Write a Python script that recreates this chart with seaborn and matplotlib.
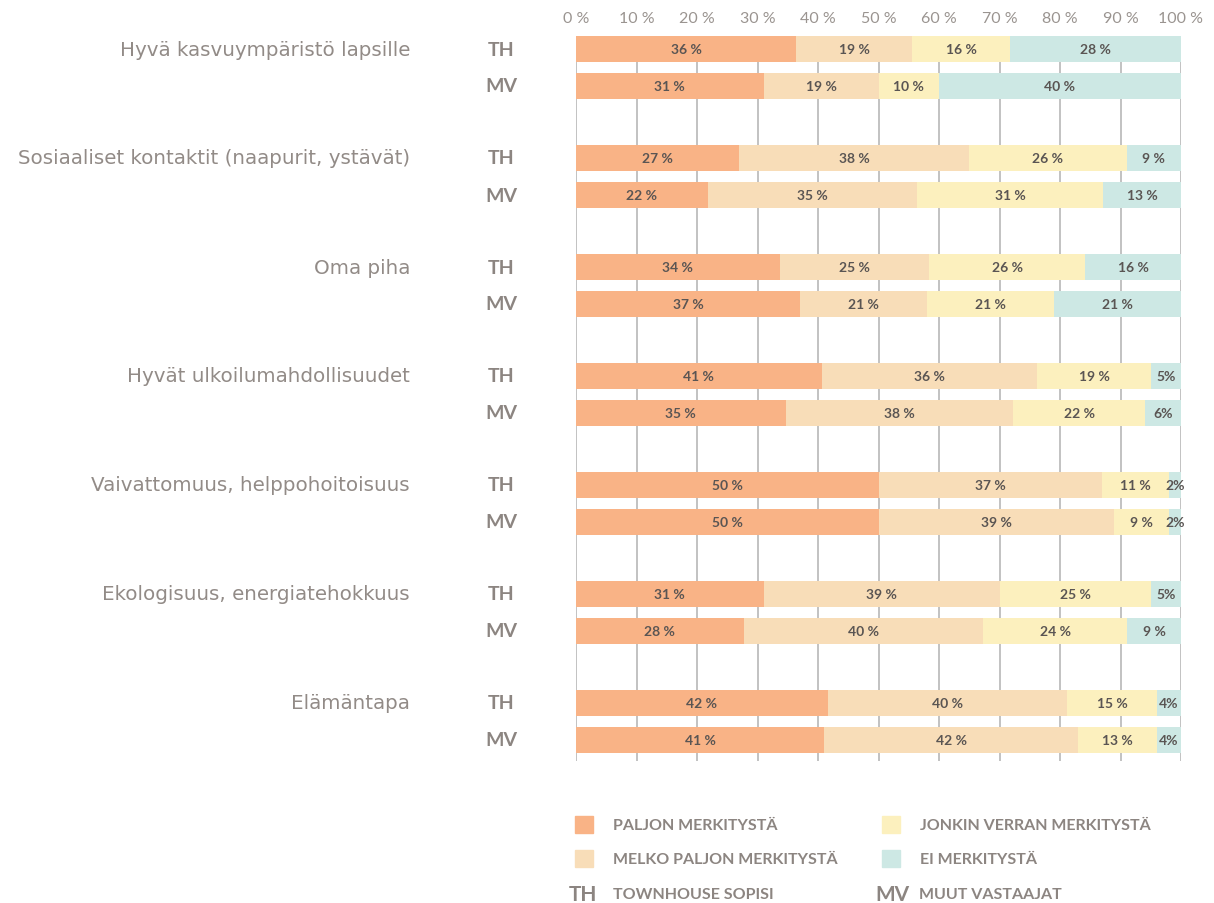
import numpy as np
import seaborn as sns
import matplotlib.pyplot as plt
from matplotlib.patches import Rectangle

# data
categories = ['Hyvä kasvuympäristö lapsille',
              'Sosiaaliset kontaktit (naapurit, ystävät)',
              'Oma piha',
              'Hyvät ulkoilumahdollisuudet',
              'Vaivattomuus, helppohoitoisuus',
              'Ekologisuus, energiatehokkuus',
              'Elämäntapa']
groups = ['TH', 'MV']
segments = ['PALJON MERKITYSTÄ', 'MELKO PALJON MERKITYSTÄ',
            'JONKIN VERRAN MERKITYSTÄ', 'EI MERKITYSTÄ']

paljon = [[36, 31], [27, 22], [34, 37], [41, 35], [50, 50], [31, 28], [42, 41]]
melko = [[19, 19], [38, 35], [25, 21], [36, 38], [37, 39], [39, 40], [40, 42]]
jonkin = [[16, 10], [26, 31], [26, 21], [19, 22], [11, 9], [25, 24], [15, 13]]
ei = [[28, 40], [9, 13], [16, 21], [5, 6], [2, 2], [5, 9], [4, 4]]

ticks = [0, 10, 20, 30, 40, 50, 60, 70, 80, 90, 100]
tick_labels = [f'{t} %' for t in ticks]

colors = ['#F9B386', '#F8DDB8', '#FCF0BE', '#CDE8E4']
grey = '#8C8581'
dark = '#5A5553'

sns.set_theme(style='white')
plt.rcParams['font.family'] = ['DejaVu Sans']

W, H = 1214, 904
fig = plt.figure(figsize=(W / 100, H / 100), dpi=100)
# axes placed in pixel terms: x 576..1181, y 37..762
ax = fig.add_axes([576 / W, 1 - 762 / H, (1181 - 576) / W, (762 - 37) / H])
ax.set_xlim(0, 100)
ax.set_ylim(762, 37)  # y in pixel units, inverted

values = np.array([paljon, melko, jonkin, ei], dtype=float)  # (seg, cat, grp)
group_gap = 109
row_gap = 37
bar_h = 26

for ci, cat in enumerate(categories):
    for gi, g in enumerate(groups):
        y = 50 + ci * group_gap + gi * row_gap
        vals = values[:, ci, gi]
        scaled = vals / vals.sum() * 100
        left = 0
        for si in range(4):
            ax.barh(y, scaled[si], left=left, height=bar_h, color=colors[si],
                    edgecolor='none', zorder=2)
            v = int(vals[si])
            txt = f'{v}%' if v <= 6 else f'{v} %'
            ax.text(left + scaled[si] / 2, y, txt, ha='center', va='center',
                    fontsize=10, fontweight='bold', color=dark,
                    family='Lato', zorder=3)
            left += scaled[si]
        # group label
        fig.text(501 / W, 1 - y / H, g, ha='center', va='center',
                 fontsize=14, fontweight='bold', color=grey, family='Lato')
    fig.text(410 / W, 1 - (50 + ci * group_gap) / H, cat, ha='right',
             va='center', fontsize=14.3, color='#928B87', family='DejaVu Sans')

ax.set_xticks(ticks)
ax.set_xticklabels(tick_labels)
ax.xaxis.tick_top()
ax.tick_params(axis='x', length=0, pad=8, labelsize=11.5, labelcolor='#9A9490')
for lab in ax.get_xticklabels():
    lab.set_family('Lato')
ax.set_yticks([])
for t in ticks:
    ax.axvline(t, color='#BDBDBD', lw=1.3, zorder=1)
for s in ax.spines.values():
    s.set_visible(False)

# legend
leg_pos = [(575, 826), (575, 860), (882, 826), (882, 860)]
for si, (lx, ly) in enumerate(leg_pos):
    fig.patches.append(Rectangle((lx / W, 1 - (ly + 8) / H), 18 / W, 17 / H,
                                 transform=fig.transFigure, color=colors[si]))
    fig.text((lx + 38) / W, 1 - ly / H, segments[si], ha='left', va='center',
             fontsize=11.5, fontweight='bold', color=grey, family='Lato')
for (lx, ly), g, txt in [((569, 895), 'TH', 'TOWNHOUSE SOPISI'),
                         ((875, 895), 'MV', 'MUUT VASTAAJAT')]:
    fig.text(lx / W, 1 - ly / H, g, ha='left', va='center', fontsize=15,
             fontweight='bold', color=grey, family='Lato')
    fig.text((lx + 44) / W, 1 - ly / H, txt, ha='left', va='center',
             fontsize=11.5, fontweight='bold', color=grey, family='Lato')

fig.savefig('out.png', dpi=100, facecolor='white')
